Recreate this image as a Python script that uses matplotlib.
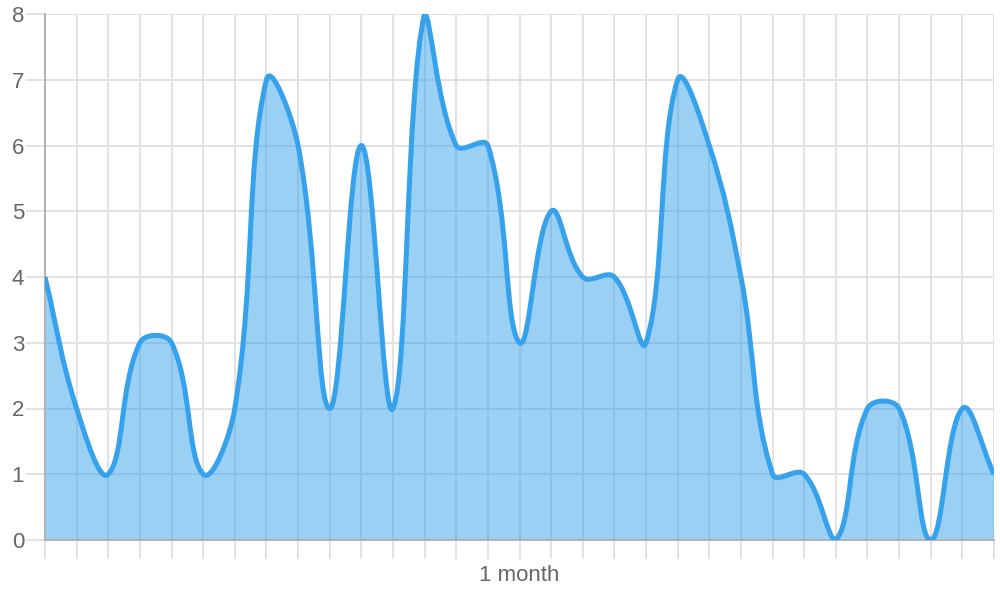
import numpy as np
import matplotlib.pyplot as plt
from matplotlib.path import Path
from matplotlib.patches import PathPatch

plt.rcParams['font.family'] = ['Liberation Sans', 'DejaVu Sans']

# one point per day over the month
days = list(range(31))
values = [4, 2, 1, 3, 3, 1, 2, 7, 6, 2, 6, 2, 8, 6, 6, 3, 5, 4, 4, 3,
          7, 6, 4, 1, 1, 0, 2, 2, 0, 2, 1]
y_ticks = [0, 1, 2, 3, 4, 5, 6, 7, 8]
x_title = '1 month'

line_color = '#36a2eb'
fill_color = (54 / 255, 162 / 255, 235 / 255, 0.5)
grid_color = '#e2e2e2'
axis_color = '#b0b0b0'
text_color = '#666666'

# layout in pixels (1000x600 canvas)
W, H = 1000, 600
left, right, top, bottom = 45, 994, 14, 540
tension = 0.4

fig = plt.figure(figsize=(W / 100, H / 100), dpi=100)
ax = fig.add_axes([left / W, 1 - bottom / H, (right - left) / W, (bottom - top) / H])
xmax, ymax = days[-1], y_ticks[-1]
ax.set_xlim(0, xmax)
ax.set_ylim(0, ymax)

# bezier control points like a tension-0.4 spline, worked out in pixel space
sx = (right - left) / xmax
sy = (bottom - top) / ymax
px = np.array(days, dtype=float) * sx
py = np.array(values, dtype=float) * sy
n = len(px)
prev_cp, next_cp = [], []
for i in range(n):
    a, b = max(i - 1, 0), min(i + 1, n - 1)
    d01 = np.hypot(px[i] - px[a], py[i] - py[a])
    d12 = np.hypot(px[b] - px[i], py[b] - py[i])
    tot = d01 + d12
    s01 = d01 / tot if tot else 0
    s12 = d12 / tot if tot else 0
    fa, fb = tension * s01, tension * s12
    dx, dy = px[b] - px[a], py[b] - py[a]
    prev_cp.append((np.clip(px[i] - fa * dx, 0, xmax * sx) / sx,
                    np.clip(py[i] - fa * dy, 0, ymax * sy) / sy))
    next_cp.append((np.clip(px[i] + fb * dx, 0, xmax * sx) / sx,
                    np.clip(py[i] + fb * dy, 0, ymax * sy) / sy))

verts = [(days[0], values[0])]
codes = [Path.MOVETO]
for i in range(n - 1):
    verts += [next_cp[i], prev_cp[i + 1], (days[i + 1], values[i + 1])]
    codes += [Path.CURVE4] * 3

fill_verts = verts + [(days[-1], 0), (days[0], 0), (days[0], values[0])]
fill_codes = codes + [Path.LINETO, Path.LINETO, Path.CLOSEPOLY]
ax.add_patch(PathPatch(Path(fill_verts, fill_codes), facecolor=fill_color,
                       edgecolor='none', zorder=2))
ax.add_patch(PathPatch(Path(verts, codes), fill=False, edgecolor=line_color,
                       lw=3.6, capstyle='butt', joinstyle='round', zorder=3))

ax.set_xticks(days)
ax.set_xticklabels([])
ax.set_yticks(y_ticks)
ax.grid(True, color=grid_color, lw=1.4)
ax.set_axisbelow(True)
ax.tick_params(axis='both', length=14, width=1.4, color=grid_color,
               labelsize=16, labelcolor=text_color, pad=1)
ax.xaxis.get_major_ticks()[0].tick1line.set_color(axis_color)
ax.yaxis.get_major_ticks()[0].tick1line.set_color(axis_color)

for s in ['top', 'right']:
    ax.spines[s].set_visible(False)
for s in ['left', 'bottom']:
    ax.spines[s].set_color(axis_color)
    ax.spines[s].set_linewidth(1.4)

ax.set_xlabel(x_title, fontsize=16, color=text_color, labelpad=3)

fig.savefig('out.png', dpi=100)
